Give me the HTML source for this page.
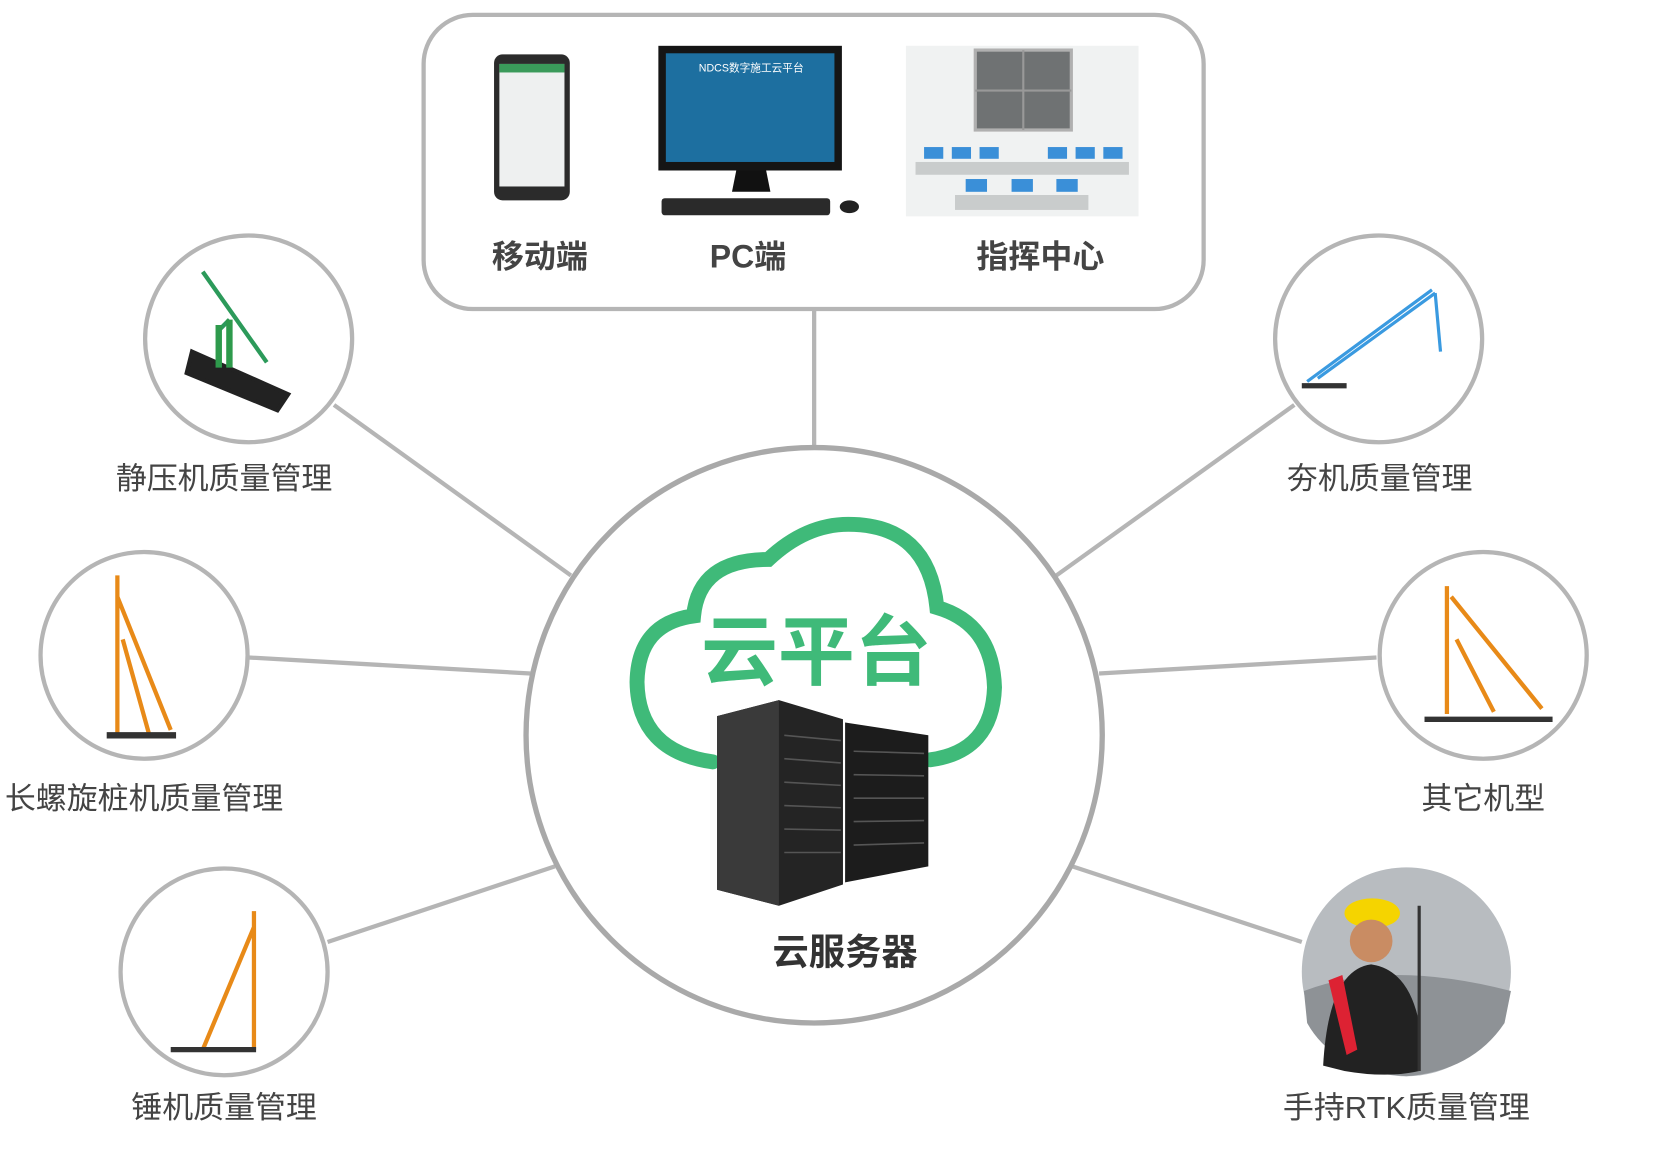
<!DOCTYPE html>
<html><head><meta charset="utf-8"><style>
html,body{margin:0;padding:0;background:#fff;}
svg{display:block}
text{font-family:"Liberation Sans","Noto Sans CJK SC",sans-serif;}
</style></head><body>
<svg width="1671" height="1153" viewBox="0 0 1566 1082" preserveAspectRatio="none" xmlns="http://www.w3.org/2000/svg">
<g stroke="#b5b5b5" stroke-width="4" fill="none">
<rect x="397" y="14" width="731" height="276" rx="46"/>
<line x1="763" y1="290" x2="763" y2="420"/>
<line x1="313" y1="380" x2="535" y2="540"/>
<line x1="233" y1="617" x2="497" y2="632"/>
<line x1="307" y1="884" x2="520" y2="813"/>
<line x1="1213" y1="380" x2="990" y2="540"/>
<line x1="1290" y1="617" x2="1030" y2="632"/>
<line x1="1220" y1="884" x2="1005" y2="813"/>
<circle cx="233" cy="318" r="97"/>
<circle cx="135" cy="615" r="97"/>
<circle cx="210" cy="912" r="97"/>
<circle cx="1292" cy="318" r="97"/>
<circle cx="1390" cy="615" r="97"/>
</g>
<circle cx="763" cy="690" r="270" fill="#fff" stroke="#a9a9a9" stroke-width="5"/>
<!-- RTK photo -->
<circle cx="1318" cy="912" r="98" fill="#b8bcc0"/>
<path d="M1222 930 Q1300 900 1416 930 L1410 960 Q1380 1005 1318 1010 Q1250 1005 1225 960Z" fill="#8e9296"/>
<path d="M1240 1000 Q1245 910 1285 905 Q1320 910 1330 960 L1330 1005 Q1300 1012 1260 1005Z" fill="#222"/>
<path d="M1245 920 L1262 990 L1272 985 L1258 915Z" fill="#d23"/>
<ellipse cx="1286" cy="857" rx="26" ry="14" fill="#f5d400"/>
<ellipse cx="1285" cy="883" rx="20" ry="20" fill="#c98c63"/>
<line x1="1330" y1="850" x2="1330" y2="1005" stroke="#333" stroke-width="3"/>
<!-- machine icons -->
<g stroke-width="4" fill="none">
<path d="M190 255 L250 340 M205 310 L215 300" stroke="#2c9a5a"/>
<path d="M180 330 L270 370 L260 385 L175 350Z" fill="#222" stroke="#222"/>
<path d="M205 305 L205 345 M215 300 L215 345" stroke="#2e9a4c" stroke-width="6"/>
<path d="M110 540 L110 690 M110 560 L160 685 M115 600 L140 690" stroke="#e88a18"/>
<path d="M100 690 L165 690" stroke="#333" stroke-width="6"/>
<path d="M238 855 L238 985 M238 870 L190 985" stroke="#e88a18"/>
<path d="M160 985 L240 985" stroke="#333" stroke-width="5"/>
<path d="M1225 358 L1342 272 M1235 355 L1345 275 M1345 275 L1350 330" stroke="#3a9ae0" stroke-width="3"/>
<path d="M1220 362 L1262 362" stroke="#333" stroke-width="5"/>
<path d="M1356 550 L1356 670 M1360 560 L1445 665 M1365 600 L1400 668" stroke="#e88a18"/>
<path d="M1335 675 L1455 675" stroke="#333" stroke-width="5"/>
</g>
<!-- devices -->
<rect x="463" y="51" width="71" height="137" rx="8" fill="#2b2b2b"/>
<rect x="468" y="60" width="61" height="115" fill="#eef0f0"/>
<rect x="468" y="60" width="61" height="8" fill="#3a9a5a"/>
<rect x="617" y="43" width="172" height="117" fill="#151515"/>
<rect x="624" y="50" width="158" height="102" fill="#1d6fa0"/>
<text x="704" y="67" font-size="10" fill="#fff" text-anchor="middle">NDCS数字施工云平台</text>
<path d="M690 160 L718 160 L722 180 L686 180Z" fill="#111"/>
<rect x="620" y="186" width="158" height="16" rx="3" fill="#2a2a2a"/>
<ellipse cx="796" cy="194" rx="9" ry="6" fill="#222"/>
<rect x="849" y="43" width="218" height="160" fill="#f0f2f2"/>
<rect x="914" y="47" width="90" height="75" fill="#6f7273" stroke="#b0b0b0" stroke-width="3"/>
<line x1="959" y1="47" x2="959" y2="122" stroke="#999" stroke-width="2"/>
<line x1="914" y1="85" x2="1004" y2="85" stroke="#999" stroke-width="2"/>
<g fill="#3a8fd8">
<rect x="866" y="138" width="18" height="11"/><rect x="892" y="138" width="18" height="11"/><rect x="918" y="138" width="18" height="11"/>
<rect x="982" y="138" width="18" height="11"/><rect x="1008" y="138" width="18" height="11"/><rect x="1034" y="138" width="18" height="11"/>
<rect x="905" y="168" width="20" height="12"/><rect x="948" y="168" width="20" height="12"/><rect x="990" y="168" width="20" height="12"/>
</g>
<rect x="858" y="152" width="200" height="12" fill="#c9cccc"/>
<rect x="895" y="183" width="125" height="14" fill="#c9cccc"/>
<!-- cloud -->
<path d="M668 715 Q598 705 597 640 Q598 585 650 578 Q655 525 720 525 Q755 492 795 492 Q870 492 878 570 Q930 585 932 645 Q930 705 872 713" fill="none" stroke="#3fba79" stroke-width="14" stroke-linecap="round"/>
<text x="765" y="637" font-size="72" font-weight="bold" fill="#3fba79" text-anchor="middle">云平台</text>
<!-- servers -->
<path d="M792 678 L870 690 L870 813 L792 828Z" fill="#1c1c1c"/>
<path d="M672 672 L730 657 L790 675 L790 830 L730 850 L672 835Z" fill="#242424"/>
<path d="M672 672 L730 657 L730 850 L672 835Z" fill="#3a3a3a"/>
<g stroke="#555" stroke-width="1.5">
<line x1="735" y1="690" x2="788" y2="695"/><line x1="735" y1="712" x2="788" y2="716"/><line x1="735" y1="734" x2="788" y2="737"/><line x1="735" y1="756" x2="788" y2="758"/><line x1="735" y1="778" x2="788" y2="779"/><line x1="735" y1="800" x2="788" y2="800"/>
<line x1="800" y1="705" x2="866" y2="707"/><line x1="800" y1="727" x2="866" y2="728"/><line x1="800" y1="749" x2="866" y2="749"/><line x1="800" y1="771" x2="866" y2="770"/><line x1="800" y1="793" x2="866" y2="791"/>
</g>
<text x="792" y="905" font-size="34" font-weight="bold" fill="#333" text-anchor="middle">云服务器</text>
<g font-size="30" font-weight="bold" fill="#444" text-anchor="middle">
<text x="506" y="251">移动端</text><text x="701" y="251">PC端</text><text x="975" y="251">指挥中心</text>
</g>
<g font-size="29" fill="#444" text-anchor="middle">
<text x="210" y="459">静压机质量管理</text>
<text x="135" y="759">长螺旋桩机质量管理</text>
<text x="210" y="1049">锤机质量管理</text>
<text x="1293" y="459">夯机质量管理</text>
<text x="1390" y="759">其它机型</text>
<text x="1318" y="1049">手持RTK质量管理</text>
</g>
</svg>
</body></html>
